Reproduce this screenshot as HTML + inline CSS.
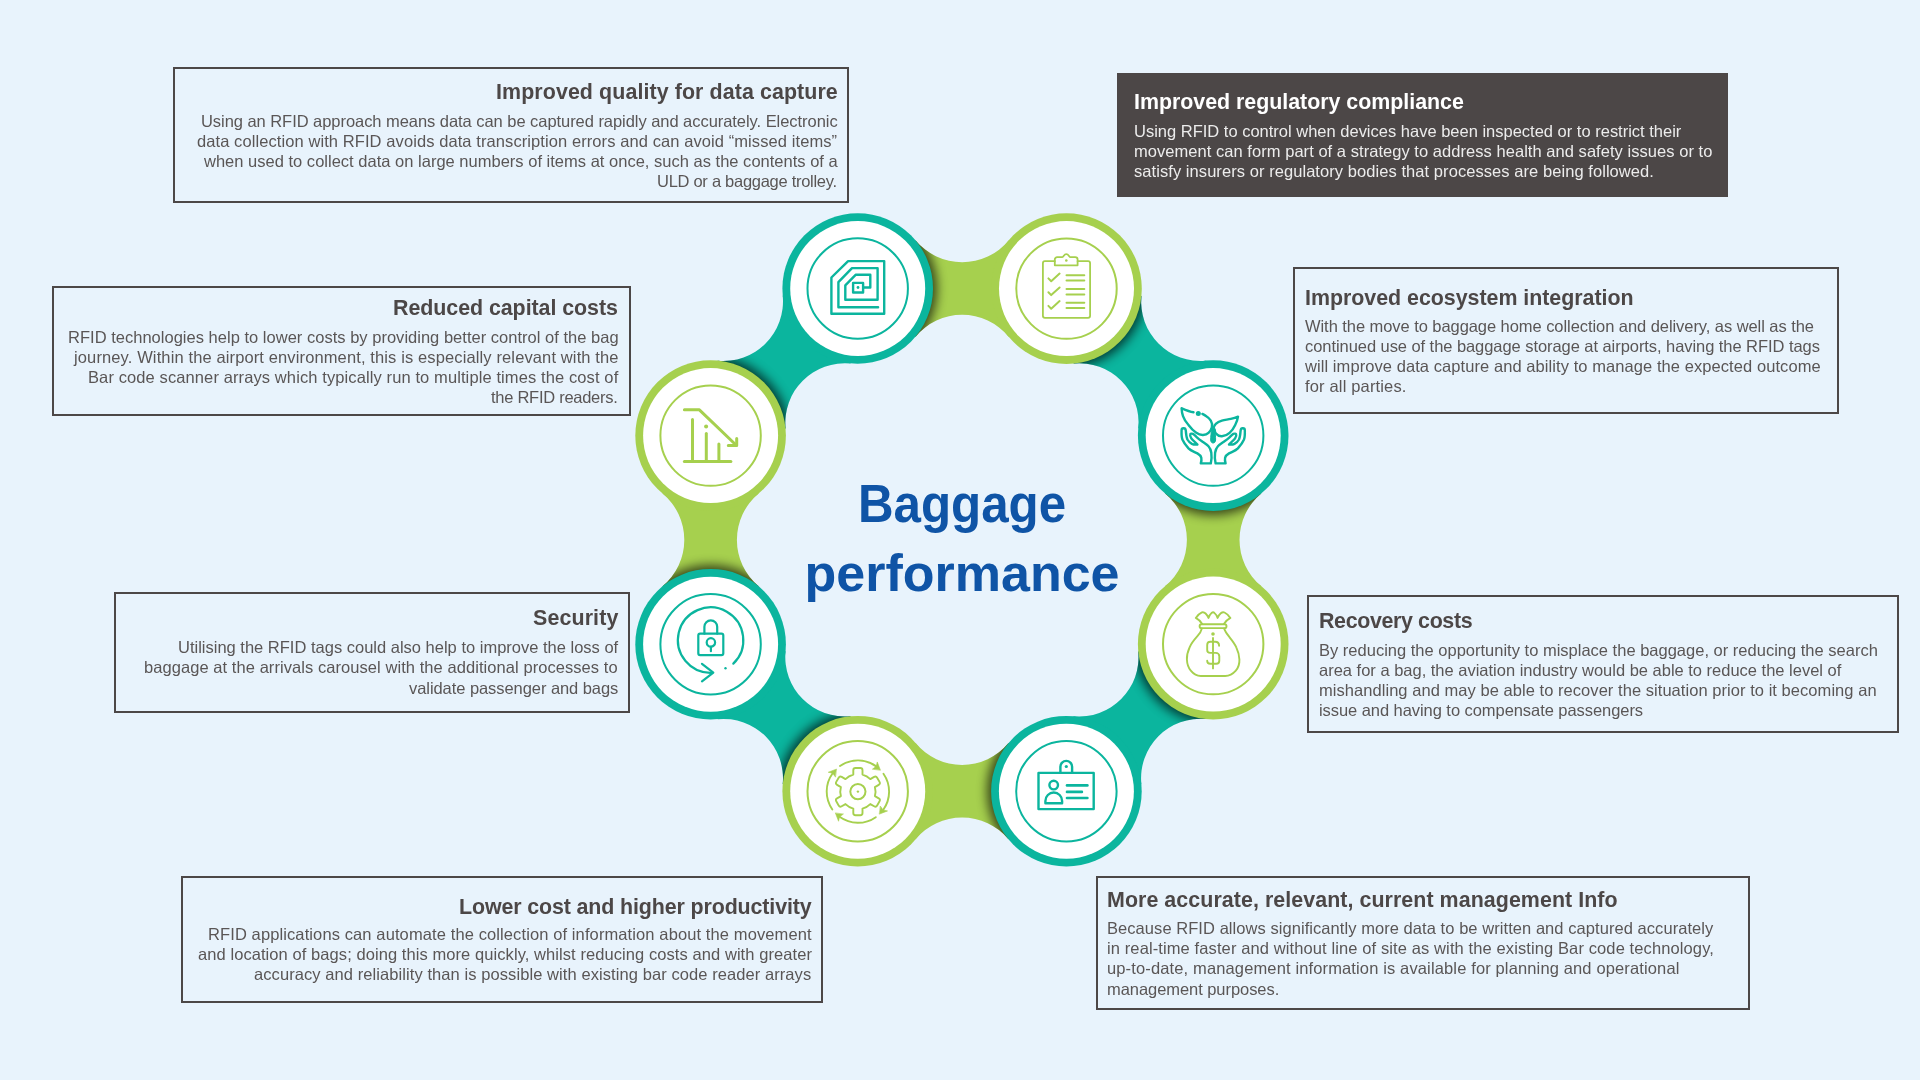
<!DOCTYPE html>
<html lang="en"><head><meta charset="utf-8"><title>Baggage performance</title>
<style>
html,body{margin:0;padding:0}
body{width:1920px;height:1080px;overflow:hidden;background:#e8f3fc;font-family:"Liberation Sans",sans-serif;position:relative}
.ring{position:absolute;left:0;top:0}
.box{position:absolute;box-sizing:border-box;border:2px solid #4c4747;color:#5a5656}
.box.dark{background:#4c4747;border:none;color:#ececec}
.box div{position:absolute;white-space:nowrap;line-height:1.149;will-change:transform}
.box .t{font-weight:bold;font-size:21.4px;color:#4c4747}
.box.dark .t{color:#fff}
.box .l{font-size:16.5px}
.centre{position:absolute;left:762px;width:400px;text-align:center;color:#0f54a6;font-weight:bold;font-size:52px;line-height:60px;white-space:nowrap;transform-origin:50% 50%}
</style></head><body>
<svg class="ring" width="1920" height="1080" viewBox="0 0 1920 1080">
<defs><filter id="bl" x="-30%" y="-30%" width="160%" height="160%"><feGaussianBlur stdDeviation="5.5"/></filter>
<clipPath id="c0"><path d="M915.6 336.64A60.42 60.42 0 0 1 1008.55 336.69L1066.5 288.6L1008.6 240.46A60.42 60.42 0 0 1 915.65 240.41L857.7 288.5Z"/></clipPath>
<clipPath id="c1"><path d="M1073.67 363.56A59.23 59.23 0 0 1 1138.26 428.27L1213.2 435.6L1206.03 360.64A59.23 59.23 0 0 1 1141.44 295.93L1066.5 288.6Z"/></clipPath>
<clipPath id="c2"><path d="M1165.15 493.58A60.1 60.1 0 0 1 1165.15 586.12L1213.2 644.1L1261.25 586.12A60.1 60.1 0 0 1 1261.25 493.58L1213.2 435.6Z"/></clipPath>
<clipPath id="c3"><path d="M1138.25 651.39A59.38 59.38 0 0 1 1073.53 716.24L1066.4 791.2L1141.35 783.91A59.38 59.38 0 0 1 1206.07 719.06L1213.2 644.1Z"/></clipPath>
<clipPath id="c4"><path d="M1008.46 743.11A60.31 60.31 0 0 1 915.64 743.11L857.7 791.2L915.64 839.29A60.31 60.31 0 0 1 1008.46 839.29L1066.4 791.2Z"/></clipPath>
<clipPath id="c5"><path d="M850.5 716.24A59.53 59.53 0 0 1 785.56 651.34L710.6 644.2L717.8 719.16A59.53 59.53 0 0 1 782.74 784.06L857.7 791.2Z"/></clipPath>
<clipPath id="c6"><path d="M758.67 586.24A60.21 60.21 0 0 1 758.67 493.56L710.6 435.6L662.53 493.56A60.21 60.21 0 0 1 662.53 586.24L710.6 644.2Z"/></clipPath>
<clipPath id="c7"><path d="M785.56 428.45A59.6 59.6 0 0 1 850.55 363.46L857.7 288.5L782.74 295.65A59.6 59.6 0 0 1 717.75 360.64L710.6 435.6Z"/></clipPath>
</defs>
<path d="M915.6 336.64A60.42 60.42 0 0 1 1008.55 336.69L1066.5 288.6L1008.6 240.46A60.42 60.42 0 0 1 915.65 240.41L857.7 288.5Z" fill="#a6d04e"/>
<g clip-path="url(#c0)"><circle cx="857.7" cy="288.5" r="79.3" fill="#000" opacity=".68" filter="url(#bl)"/></g>
<path d="M1073.67 363.56A59.23 59.23 0 0 1 1138.26 428.27L1213.2 435.6L1206.03 360.64A59.23 59.23 0 0 1 1141.44 295.93L1066.5 288.6Z" fill="#0bb59e"/>
<g clip-path="url(#c1)"><circle cx="1066.5" cy="288.6" r="79.3" fill="#000" opacity=".68" filter="url(#bl)"/></g>
<path d="M1165.15 493.58A60.1 60.1 0 0 1 1165.15 586.12L1213.2 644.1L1261.25 586.12A60.1 60.1 0 0 1 1261.25 493.58L1213.2 435.6Z" fill="#a6d04e"/>
<g clip-path="url(#c2)"><circle cx="1213.2" cy="435.6" r="79.3" fill="#000" opacity=".68" filter="url(#bl)"/></g>
<path d="M1138.25 651.39A59.38 59.38 0 0 1 1073.53 716.24L1066.4 791.2L1141.35 783.91A59.38 59.38 0 0 1 1206.07 719.06L1213.2 644.1Z" fill="#0bb59e"/>
<g clip-path="url(#c3)"><circle cx="1213.2" cy="644.1" r="79.3" fill="#000" opacity=".68" filter="url(#bl)"/></g>
<path d="M1008.46 743.11A60.31 60.31 0 0 1 915.64 743.11L857.7 791.2L915.64 839.29A60.31 60.31 0 0 1 1008.46 839.29L1066.4 791.2Z" fill="#a6d04e"/>
<g clip-path="url(#c4)"><circle cx="1066.4" cy="791.2" r="79.3" fill="#000" opacity=".68" filter="url(#bl)"/></g>
<path d="M850.5 716.24A59.53 59.53 0 0 1 785.56 651.34L710.6 644.2L717.8 719.16A59.53 59.53 0 0 1 782.74 784.06L857.7 791.2Z" fill="#0bb59e"/>
<g clip-path="url(#c5)"><circle cx="857.7" cy="791.2" r="79.3" fill="#000" opacity=".68" filter="url(#bl)"/></g>
<path d="M758.67 586.24A60.21 60.21 0 0 1 758.67 493.56L710.6 435.6L662.53 493.56A60.21 60.21 0 0 1 662.53 586.24L710.6 644.2Z" fill="#a6d04e"/>
<g clip-path="url(#c6)"><circle cx="710.6" cy="644.2" r="79.3" fill="#000" opacity=".68" filter="url(#bl)"/></g>
<path d="M785.56 428.45A59.6 59.6 0 0 1 850.55 363.46L857.7 288.5L782.74 295.65A59.6 59.6 0 0 1 717.75 360.64L710.6 435.6Z" fill="#0bb59e"/>
<g clip-path="url(#c7)"><circle cx="710.6" cy="435.6" r="79.3" fill="#000" opacity=".68" filter="url(#bl)"/></g>
<circle cx="857.7" cy="288.5" r="75.3" fill="#0bb59e"/>
<circle cx="857.7" cy="288.5" r="67.5" fill="#fff"/>
<circle cx="857.7" cy="288.5" r="50.2" fill="none" stroke="#0bb59e" stroke-width="2"/>
<circle cx="1066.5" cy="288.6" r="75.3" fill="#a6d04e"/>
<circle cx="1066.5" cy="288.6" r="67.5" fill="#fff"/>
<circle cx="1066.5" cy="288.6" r="50.2" fill="none" stroke="#a6d04e" stroke-width="2"/>
<circle cx="1213.2" cy="435.6" r="75.3" fill="#0bb59e"/>
<circle cx="1213.2" cy="435.6" r="67.5" fill="#fff"/>
<circle cx="1213.2" cy="435.6" r="50.2" fill="none" stroke="#0bb59e" stroke-width="2"/>
<circle cx="1213.2" cy="644.1" r="75.3" fill="#a6d04e"/>
<circle cx="1213.2" cy="644.1" r="67.5" fill="#fff"/>
<circle cx="1213.2" cy="644.1" r="50.2" fill="none" stroke="#a6d04e" stroke-width="2"/>
<circle cx="1066.4" cy="791.2" r="75.3" fill="#0bb59e"/>
<circle cx="1066.4" cy="791.2" r="67.5" fill="#fff"/>
<circle cx="1066.4" cy="791.2" r="50.2" fill="none" stroke="#0bb59e" stroke-width="2"/>
<circle cx="857.7" cy="791.2" r="75.3" fill="#a6d04e"/>
<circle cx="857.7" cy="791.2" r="67.5" fill="#fff"/>
<circle cx="857.7" cy="791.2" r="50.2" fill="none" stroke="#a6d04e" stroke-width="2"/>
<circle cx="710.6" cy="644.2" r="75.3" fill="#0bb59e"/>
<circle cx="710.6" cy="644.2" r="67.5" fill="#fff"/>
<circle cx="710.6" cy="644.2" r="50.2" fill="none" stroke="#0bb59e" stroke-width="2"/>
<circle cx="710.6" cy="435.6" r="75.3" fill="#a6d04e"/>
<circle cx="710.6" cy="435.6" r="67.5" fill="#fff"/>
<circle cx="710.6" cy="435.6" r="50.2" fill="none" stroke="#a6d04e" stroke-width="2"/>
<g transform="translate(857.7 288.5)" fill="none" stroke="#0bb59e" stroke-width="2.4" stroke-linecap="round" stroke-linejoin="round"><path d="M-26.3 -11L-9.6 -27.4H26.5V25.2H-26.3Z"/><path d="M20.4 18.7H-19.3V-6.3L-5.7 -20.4H19.9V11.3H-12.4V-3.2L-2.1 -13.7H12.6V-1H5.4"/><rect x="-4.6" y="-5.6" width="10" height="9.6"/><circle cx="0.3" cy="-1" r="1.4" fill="#0bb59e" stroke="none"/></g>
<g transform="translate(1066.5 288.6)" fill="none" stroke="#a6d04e" stroke-width="1.8" stroke-linecap="round" stroke-linejoin="round"><path d="M-11.7 -27.4H-21.6a2 2 0 0 0 -2 2V27.2a2 2 0 0 0 2 2H21.6a2 2 0 0 0 2 -2V-25.4a2 2 0 0 0 -2 -2H11.1"/><path d="M-11.7 -23.3V-29a2.4 2.4 0 0 1 2.4 -2.4H-4.5C-3 -31.4 -2.6 -34.4 -0.2 -34.4C2.2 -34.4 2.6 -31.4 4 -31.4H8.7a2.4 2.4 0 0 1 2.4 2.4V-23.3Z"/><circle cx="-0.2" cy="-28.1" r="1.3" fill="#a6d04e" stroke="none"/><g stroke-width="2"><path d="M-18.1 -10.2L-15.3 -7.4L-6.9 -15"/><path d="M-18.1 3.7L-15.3 6.5L-6.9 -1.1"/><path d="M-18.1 17.3L-15.3 20.1L-6.9 12.5"/><path d="M0 -13.3H17.8"/><path d="M0 -8H17.8"/><path d="M0 0.3H17.8"/><path d="M0 5.8H17.8"/><path d="M0 14.1H17.8"/><path d="M0 19.4H17.8"/></g></g>
<g transform="translate(1213.2 435.6)" fill="none" stroke="#0bb59e" stroke-width="2.4" stroke-linecap="round" stroke-linejoin="round"><path d="M-12.4 27.8H-2.4C-1.6 24 -1.4 20.5 -1.9 17.2C-2.4 14 -3.2 12.2 -4.7 10.6C-6.5 8.7 -9 7.2 -11.3 5.6C-13.4 4.2 -15 2.9 -16.3 1.7C-17.8 0.3 -18.8 -1 -20.2 -1.7C-21.4 -2.3 -22.8 -2 -23 -1.1C-23.3 0 -22.8 1.4 -21.9 2.8C-20.5 5 -17.8 6.5 -15.8 8.9C-18 9.2 -19.8 9 -21.3 8.3C-23.2 7.3 -24.7 5.8 -25.8 3.9C-27 1.2 -27.2 -2.2 -27.4 -5C-27.6 -6.8 -28.6 -7.5 -29.7 -7.4C-30.9 -7.3 -31.6 -6.7 -31.6 -5.6C-31.7 -2.2 -31.9 1.1 -30.8 3.9C-29.5 7 -27 10.2 -24.7 12.8C-22.4 15.2 -18.8 16.2 -15.8 17.8C-13.7 19 -12.3 20.3 -11.9 22.2C-11.6 23.8 -11.8 26 -12.4 27.8Z"/><path d="M-12.4 27.8H-2.4C-1.6 24 -1.4 20.5 -1.9 17.2C-2.4 14 -3.2 12.2 -4.7 10.6C-6.5 8.7 -9 7.2 -11.3 5.6C-13.4 4.2 -15 2.9 -16.3 1.7C-17.8 0.3 -18.8 -1 -20.2 -1.7C-21.4 -2.3 -22.8 -2 -23 -1.1C-23.3 0 -22.8 1.4 -21.9 2.8C-20.5 5 -17.8 6.5 -15.8 8.9C-18 9.2 -19.8 9 -21.3 8.3C-23.2 7.3 -24.7 5.8 -25.8 3.9C-27 1.2 -27.2 -2.2 -27.4 -5C-27.6 -6.8 -28.6 -7.5 -29.7 -7.4C-30.9 -7.3 -31.6 -6.7 -31.6 -5.6C-31.7 -2.2 -31.9 1.1 -30.8 3.9C-29.5 7 -27 10.2 -24.7 12.8C-22.4 15.2 -18.8 16.2 -15.8 17.8C-13.7 19 -12.3 20.3 -11.9 22.2C-11.6 23.8 -11.8 26 -12.4 27.8Z" transform="scale(-1 1)"/><path d="M-19.7 -23.3C-24 -24 -28 -25.8 -31.6 -27.4C-31.5 -24.6 -31 -21.8 -30.2 -19.4C-29 -16 -27 -13 -24.7 -10.6C-22.5 -7.6 -20 -4.8 -16.9 -2.8C-14.8 -1.3 -12.6 -0.5 -10.2 -0.6C-8 -0.7 -6 -1.5 -4.7 -2.8C-3 -4.4 -1.8 -6.2 -1.3 -8.3C-0.8 -10.6 -1.2 -13 -2.4 -15C-3.5 -16.8 -5 -18.2 -6.9 -19.4C-8.1 -20.3 -9.4 -21 -10.8 -21.7"/><path d="M0.3 -7.2C0.6 -9 1.3 -10.5 2.6 -11.7C4.2 -13.3 6.2 -14.3 8.7 -15C11.6 -15.8 14.6 -16 17.6 -16.7C20.2 -17.3 22.6 -18 24.8 -18.9C24.4 -16 23.4 -13.2 22 -10.6C20.6 -7.6 18.8 -4.8 16.4 -2.8C14.2 -0.8 11.6 0.4 8.7 0.6C6.5 0.7 4.4 -0.2 3.1 -1.7C2 -2.9 1.5 -4.4 1.4 -6.1"/><path d="M-1.6 -7C-1.9 -3 -2.6 1 -2.5 4.4C-2.4 6.4 -1.4 7.4 -0.1 7.4C1.3 7.4 2.3 6.4 2.4 4.4C2.5 1 1.8 -3 1.4 -7Z" fill="#0bb59e" stroke-width="1"/><circle cx="-14.9" cy="-22.2" r="2.5" fill="#0bb59e" stroke="none"/></g>
<g transform="translate(1213.2 644.1)" fill="none" stroke="#a6d04e" stroke-width="1.9" stroke-linecap="round" stroke-linejoin="round"><path d="M-11.3 -15.7C-12 -12.5 -13.6 -10.3 -15.8 -7.9C-19 -4.3 -21.8 -1 -23.6 3.2C-25.4 7.2 -26.5 11.2 -26.3 15.4C-26.1 19.8 -24.9 23.6 -22.4 26.6C-19.8 29.8 -16.4 31.9 -12.4 31.9H12C16.2 31.9 19.8 29.8 22.6 26.6C25.1 23.6 26.4 19.8 26.2 15.4C26 11.2 25 7.2 23.1 3.2C21.5 -0.4 19 -3.6 16.4 -6.8C14 -9.8 11.9 -12.4 10.9 -15.7"/><rect x="-13.6" y="-19.9" width="26.9" height="3.9" rx="1.95"/><path d="M-11 -20.1C-12.6 -22.8 -14.8 -24.8 -17.4 -26.2C-16 -28.4 -14 -30.6 -11.3 -31.8C-9.8 -32.2 -8.6 -31.6 -7.6 -30.6C-6.2 -29.2 -5.4 -27.8 -4.7 -26.2C-4 -28.2 -3 -30 -1.6 -31.2C-0.6 -32 0.4 -32 1.4 -31C2.8 -29.8 3.8 -28 4.4 -26.2C5.2 -28 6.2 -29.6 7.6 -30.8C8.8 -31.8 10 -32.2 11.3 -31.6C13.8 -30.4 15.8 -28.4 17.2 -26.2C14.6 -24.8 12.4 -22.8 10.7 -20.1"/><path d="M-0.2 -6.2V24.3"/><path d="M5.9 1.6C5.9 -0.8 4.2 -2.3 2 -2.3H-3C-4.8 -2.3 -6 -0.8 -6 1V6C-6 7.6 -4.8 8.8 -3 8.8H2.6C4.6 8.8 6.1 10.2 6.1 12.1V16.6C6.1 18.4 4.8 19.7 3.1 19.7H-3C-4.8 19.7 -6 18.4 -6 16.6"/><circle cx="-0.2" cy="-10.1" r="1.8" fill="#a6d04e" stroke="none"/></g>
<g transform="translate(1066.4 791.2)" fill="none" stroke="#0bb59e" stroke-width="2.4" stroke-linecap="round" stroke-linejoin="round"><rect x="-27.9" y="-18.3" width="55.2" height="36.2"/><path d="M-6 -18.3V-24.5a5.85 5.85 0 0 1 11.7 0V-18.3"/><circle cx="-0.1" cy="-24.7" r="1.6" fill="#0bb59e" stroke="none"/><circle cx="-12.7" cy="-6.1" r="4.3"/><path d="M-21 12V9.7a8.3 8.3 0 0 1 16.7 0V12Z"/><g stroke-width="2.6"><path d="M0.6 -5.8H21"/><path d="M0.6 0.7H15.5"/><path d="M0.6 6.8H21"/></g></g>
<g transform="translate(857.7 791.2)" fill="none" stroke="#a6d04e" stroke-width="1.9" stroke-linecap="round" stroke-linejoin="round"><g transform="translate(0.2 0.4)"><path d="M-4.6 -16.99L-4.6 -21.4Q-4.6 -23.6 -2.4 -23.6L2.4 -23.6Q4.6 -23.6 4.6 -21.4L4.6 -16.99A17.6 17.6 0 0 1 12.41 -12.48L16.23 -14.68Q18.14 -15.78 19.24 -13.88L21.64 -9.72Q22.74 -7.82 20.83 -6.72L17.01 -4.51A17.6 17.6 0 0 1 17.01 4.51L20.83 6.72Q22.74 7.82 21.64 9.72L19.24 13.88Q18.14 15.78 16.23 14.68L12.41 12.48A17.6 17.6 0 0 1 4.6 16.99L4.6 21.4Q4.6 23.6 2.4 23.6L-2.4 23.6Q-4.6 23.6 -4.6 21.4L-4.6 16.99A17.6 17.6 0 0 1 -12.41 12.48L-16.23 14.68Q-18.14 15.78 -19.24 13.88L-21.64 9.72Q-22.74 7.82 -20.83 6.72L-17.01 4.51A17.6 17.6 0 0 1 -17.01 -4.51L-20.83 -6.72Q-22.74 -7.82 -21.64 -9.72L-19.24 -13.88Q-18.14 -15.78 -16.23 -14.68L-12.41 -12.48A17.6 17.6 0 0 1 -4.6 -16.99Z"/><circle r="7.6" stroke-width="2"/><circle r="1.2" fill="#a6d04e" stroke="none"/><path d="M-17.9 -25.56A31.2 31.2 0 0 1 18.34 -25.24"/><path d="M22.44 -21.67L19.35 -29.64L18.34 -25.24L14.76 -22.61Z" fill="#a6d04e" stroke-width="0.6"/><path d="M25.56 -17.9A31.2 31.2 0 0 1 25.24 18.34"/><path d="M21.67 22.44L29.64 19.35L25.24 18.34L22.61 14.76Z" fill="#a6d04e" stroke-width="0.6"/><path d="M17.9 25.56A31.2 31.2 0 0 1 -18.34 25.24"/><path d="M-22.44 21.67L-19.35 29.64L-18.34 25.24L-14.76 22.61Z" fill="#a6d04e" stroke-width="0.6"/><path d="M-25.56 17.9A31.2 31.2 0 0 1 -25.24 -18.34"/><path d="M-21.67 -22.44L-29.64 -19.35L-25.24 -18.34L-22.61 -14.76Z" fill="#a6d04e" stroke-width="0.6"/></g></g>
<g transform="translate(710.6 644.2)" fill="none" stroke="#0bb59e" stroke-width="2.2" stroke-linecap="round" stroke-linejoin="round"><path d="M22.72 19.42A32.7 32.7 0 1 0 1.71 28.56"/><path d="M-8.6 19.6L2.7 28.4L-8.6 37.1"/><circle cx="14.9" cy="24.1" r="1.2" fill="#0bb59e" stroke="none"/><rect x="-12.3" y="-10.5" width="25" height="21.4" rx="1.8"/><path d="M-6.2 -10.5V-17.4a6.4 6.4 0 0 1 12.8 0V-10.5"/><circle cx="0.3" cy="-1.8" r="4.2"/><path d="M0.3 2.6V7"/></g>
<g transform="translate(710.6 435.6)" fill="none" stroke="#a6d04e" stroke-width="3.0" stroke-linecap="round" stroke-linejoin="round"><path d="M-26.2 -25.8H-11.2L24.9 8.9"/><path d="M26.1 2.8V10H17.7"/><path d="M-26.2 25.9H20.3"/><path d="M-18.1 -16.1V25.9"/><path d="M-4.3 -2.2V25.9"/><path d="M8.3 8.3V25.9"/><circle cx="-4.5" cy="-9.2" r="2" fill="#a6d04e" stroke="none"/></g>
</svg>
<div class="centre" style="top:472.6px;font-size:54px;transform:scaleX(.913)">Baggage</div>
<div class="centre" style="top:542.7px;transform:scaleX(1)">performance</div>
<div class="box" style="left:173px;top:67px;width:676px;height:136px;">
<div class="t" style="top:10.83px;right:9.51px;letter-spacing:0.094px">Improved quality for data capture</div>
<div class="l" style="top:42.67px;right:9.65px;letter-spacing:-0.050px">Using an RFID approach means data can be captured rapidly and accurately. Electronic</div>
<div class="l" style="top:62.67px;right:9.51px;letter-spacing:0.085px">data collection with RFID avoids data transcription errors and can avoid “missed items”</div>
<div class="l" style="top:82.77px;right:9.59px;letter-spacing:0.010px">when used to collect data on large numbers of items at once, such as the contents of a</div>
<div class="l" style="top:102.77px;right:9.88px;letter-spacing:-0.280px">ULD or a baggage trolley.</div>
</div>
<div class="box dark" style="left:1116.5px;top:72.8px;width:611.8px;height:124.6px;">
<div class="t" style="top:17.13px;left:17.8px;letter-spacing:-0.020px">Improved regulatory compliance</div>
<div class="l" style="top:48.97px;left:17.8px;letter-spacing:-0.002px">Using RFID to control when devices have been inspected or to restrict their</div>
<div class="l" style="top:68.97px;left:17.8px;letter-spacing:0.043px">movement can form part of a strategy to address health and safety issues or to</div>
<div class="l" style="top:88.97px;left:17.8px;letter-spacing:0.063px">satisfy insurers or regulatory bodies that processes are being followed.</div>
</div>
<div class="box" style="left:52px;top:286px;width:579px;height:130px;">
<div class="t" style="top:7.93px;right:10.95px;letter-spacing:-0.046px">Reduced capital costs</div>
<div class="l" style="top:39.57px;right:10.88px;letter-spacing:0.016px">RFID technologies help to lower costs by providing better control of the bag</div>
<div class="l" style="top:59.57px;right:10.78px;letter-spacing:0.122px">journey. Within the airport environment, this is especially relevant with the</div>
<div class="l" style="top:79.57px;right:10.8px;letter-spacing:0.104px">Bar code scanner arrays which typically run to multiple times the cost of</div>
<div class="l" style="top:99.57px;right:11.17px;letter-spacing:-0.272px">the RFID readers.</div>
</div>
<div class="box" style="left:114px;top:592px;width:516px;height:121px;">
<div class="t" style="top:12.43px;right:9.77px;letter-spacing:0.131px">Security</div>
<div class="l" style="top:44.17px;right:9.9px;letter-spacing:-0.000px">Utilising the RFID tags could also help to improve the loss of</div>
<div class="l" style="top:64.47px;right:9.84px;letter-spacing:0.063px">baggage at the arrivals carousel with the additional processes to</div>
<div class="l" style="top:84.67px;right:9.96px;letter-spacing:-0.063px">validate passenger and bags</div>
</div>
<div class="box" style="left:181px;top:876px;width:642px;height:127px;">
<div class="t" style="top:16.63px;right:9.62px;letter-spacing:-0.118px">Lower cost and higher productivity</div>
<div class="l" style="top:47.17px;right:9.39px;letter-spacing:0.107px">RFID applications can automate the collection of information about the movement</div>
<div class="l" style="top:67.47px;right:9.43px;letter-spacing:0.073px">and location of bags; doing this more quickly, whilst reducing costs and with greater</div>
<div class="l" style="top:87.37px;right:9.42px;letter-spacing:0.078px">accuracy and reliability than is possible with existing bar code reader arrays</div>
</div>
<div class="box" style="left:1293px;top:267px;width:546px;height:147px;">
<div class="t" style="top:16.53px;left:9.6px;letter-spacing:-0.024px">Improved ecosystem integration</div>
<div class="l" style="top:47.67px;left:9.6px;letter-spacing:-0.064px">With the move to baggage home collection and delivery, as well as the</div>
<div class="l" style="top:67.57px;left:9.6px;letter-spacing:-0.062px">continued use of the baggage storage at airports, having the RFID tags</div>
<div class="l" style="top:87.77px;left:9.6px;letter-spacing:0.071px">will improve data capture and ability to manage the expected outcome</div>
<div class="l" style="top:107.67px;left:9.6px;letter-spacing:0.160px">for all parties.</div>
</div>
<div class="box" style="left:1307px;top:595px;width:592px;height:138px;">
<div class="t" style="top:11.73px;left:9.5px;letter-spacing:-0.351px">Recovery costs</div>
<div class="l" style="top:43.77px;left:9.5px;letter-spacing:0.003px">By reducing the opportunity to misplace the baggage, or reducing the search</div>
<div class="l" style="top:63.67px;left:9.5px;letter-spacing:-0.007px">area for a bag, the aviation industry would be able to reduce the level of</div>
<div class="l" style="top:83.57px;left:9.5px;letter-spacing:0.048px">mishandling and may be able to recover the situation prior to it becoming an</div>
<div class="l" style="top:103.77px;left:9.5px;letter-spacing:-0.062px">issue and having to compensate passengers</div>
</div>
<div class="box" style="left:1096px;top:876px;width:654px;height:134px;">
<div class="t" style="top:10.13px;left:9.2px;letter-spacing:0.064px">More accurate, relevant, current management Info</div>
<div class="l" style="top:41.37px;left:9.2px;letter-spacing:0.058px">Because RFID allows significantly more data to be written and captured accurately</div>
<div class="l" style="top:61.47px;left:9.2px;letter-spacing:0.108px">in real-time faster and without line of site as with the existing Bar code technology,</div>
<div class="l" style="top:81.47px;left:9.2px;letter-spacing:0.135px">up-to-date, management information is available for planning and operational</div>
<div class="l" style="top:101.57px;left:9.2px;letter-spacing:-0.058px">management purposes.</div>
</div>
</body></html>
